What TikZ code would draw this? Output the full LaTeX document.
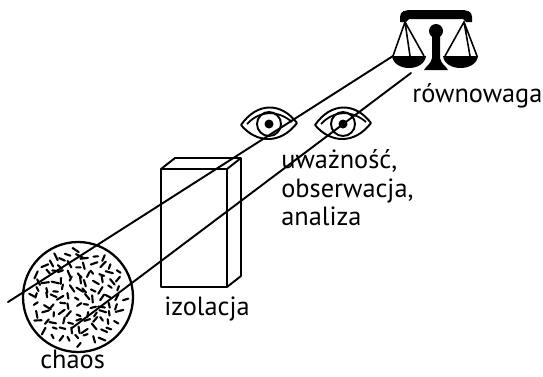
\documentclass[tikz,border=0pt]{standalone}
\usepackage{fontspec}
\setmainfont{PT Sans}
\tikzset{>=latex}

\begin{document}
\begin{tikzpicture}[x=0.02cm,y=-0.02cm]
    \tikzstyle{ray}=[line width=1.1pt,line cap=round];
    \tikzstyle{box}=[line width=1.1pt,line join=round];
    \tikzstyle{speck}=[line width=1.2pt,line cap=round];
    \tikzstyle{word}=[anchor=base west,inner sep=0pt,font=\fontsize{15}{18}\selectfont];
    \useasboundingbox (0,0) rectangle (543,376);

    % chaos: a ring full of scattered specks
    \coordinate (chaos) at (78,297);
    \draw[line width=1.3pt] (chaos) circle (55);
    \pgfmathsetseed{7}
    \foreach \gx in {-48,-40,...,48}{
      \foreach \gy in {-48,-40,...,48}{
        \pgfmathtruncatemacro\inside{(\gx*\gx+\gy*\gy<2350)}
        \ifnum\inside=1
          \pgfmathsetmacro\px{78+\gx+5*rnd-2.5}
          \pgfmathsetmacro\py{297+\gy+5*rnd-2.5}
          \pgfmathsetmacro\b{180*rnd}
          \pgfmathsetmacro\l{2+2*rnd}
          \draw[speck] (\px,\py) +(\b:\l) -- +(\b+180:\l);
        \fi
      }
    }

    % izolacja: open box
    \draw[box] (161,169) rectangle (227,287);
    \draw[box] (161,169) -- ++(14,-11) -- ++(66,0) -- ++(0,118) -- (227,287);
    \draw[box] (227,169) -- ++(14,-11);

    % eyes
    \foreach \ex/\ey in {269/124,343/124}{
      \draw[line width=1.1pt,shift={(\ex,\ey)}]
        (-28,1) .. controls (-12,-22) and (12,-22) .. (28,-1)
        (-28,1) .. controls (-12,20) and (12,20) .. (28,-1);
      \draw[line width=1pt,shift={(\ex,\ey)}]
        (-22,0) .. controls (-9,-14) and (9,-14) .. (23,-2);
      \draw[line width=1.1pt] (\ex,\ey) circle (12);
      \fill (\ex,\ey) circle (4.5);
    }

    % scales
    \fill (400,22) -- (400,17) .. controls (400,11) and (405,10) .. (412,10) -- (460,10)
      .. controls (467,10) and (472,11) .. (472,17) -- (472,22) -- (466,22) -- (463,19)
      -- (409,19) -- (406,22) -- cycle;
    \fill (436,31) circle (7);
    \fill (432,31) -- (440,31) -- (440,58) .. controls (441,64) and (446,66) .. (448,70)
      -- (424,70) .. controls (426,66) and (431,64) .. (432,58) -- cycle;
    \fill (392,56) .. controls (394,72) and (424,72) .. (426,56) -- cycle;
    \fill (443,56) .. controls (445,72) and (476,72) .. (478,56) -- cycle;
    \draw[line width=0.9pt] (393,56) -- (405,22) -- (424,56) (405,22) -- (410,56);
    \draw[line width=0.9pt] (445,56) -- (464,22) -- (477,56) (464,22) -- (470,56);
    \coordinate (pan1) at (393,56);
    \coordinate (pan2) at (411,73);

    % lines of sight
    \coordinate (s1) at (8,302);
    \coordinate (s2) at (72,328);
    \draw[ray] (s1) -- (pan1);
    \draw[ray] (s2) -- (pan2);

    % labels
    \node[word] (rown) at (412,102) {równowaga};
    \node[word] (uwaz) at (281,168) {uważność,};
    \node[word] (obse) at (281,197) {obserwacja,};
    \node[word] (anal) at (281,225) {analiza};
    \node[word] (izol) at (164,315) {izolacja};
    \node[word] (chao) at (40,368) {chaos};
\end{tikzpicture}
\end{document}
